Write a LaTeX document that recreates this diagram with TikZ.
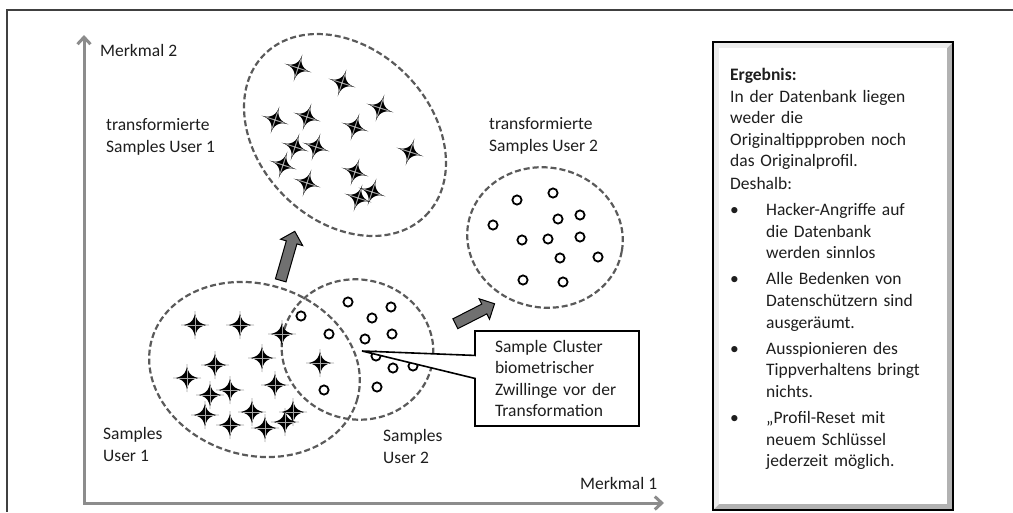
\documentclass[tikz,border=0pt]{standalone}
\usepackage{fontspec}
\setmainfont{Carlito}
\usetikzlibrary{arrows.meta,shapes.geometric,shapes.arrows,shapes.callouts}

\definecolor{axisgray}{HTML}{8C8C8C}
\definecolor{dashgray}{HTML}{5A5A5A}
\definecolor{arrowgray}{HTML}{707070}
\definecolor{framegray}{HTML}{404040}
\definecolor{inkgray}{HTML}{1E1E1E}

\tikzset{
  cluster/.style={ellipse, draw=dashgray, line width=2.2pt, dash pattern=on 6pt off 3pt, inner sep=0pt},
  lbl/.style={anchor=west, inner sep=0pt, align=left},
  ring/.style={draw=black, line width=1.8pt, fill=white},
  shiftarrow/.style={single arrow, draw=black, line width=1pt, fill=arrowgray, inner xsep=0pt, inner ysep=5pt, single arrow head extend=6pt},
  spark/.pic={
    \fill[black] (0,-14) .. controls (0,-5) and (5,0) .. (14,0)
      .. controls (5,0) and (0,5) .. (0,14)
      .. controls (0,5) and (-5,0) .. (-14,0)
      .. controls (-5,0) and (0,-5) .. cycle;
    \draw[gray!70, line width=1pt] (0,-9) -- (0,9) (-9,0) -- (9,0);
  }
}

\begin{document}
\begin{tikzpicture}[x=1pt, y=-1pt, font=\fontsize{17.5}{21.6}\selectfont, text=inkgray,
    >={Straight Barb[length=7pt,width=13pt]}]
        \useasboundingbox (0,0) rectangle (1013,512);

        % Frame
        \draw[framegray, line width=1.2pt] (1013,10) -- (7,10) -- (7,512);

        % Draw axes
        \draw[axisgray, line width=3pt, <->] (84,35) -- (84,503) -- (664,503);
        \node[lbl] (m2) at (100,50) {Merkmal 2};
        \node[lbl] (m1) at (580,483) {Merkmal 1};

        % Dashed clusters
        \node[cluster, minimum width=228pt, minimum height=172pt, rotate=-45] (trans1) at (345,135) {};
        \node[cluster, minimum width=156pt, minimum height=140pt, rotate=-10] (trans2) at (545,237.5) {};
        \node[cluster, minimum width=214pt, minimum height=171pt, rotate=-17] (user1) at (254.5,369.5) {};
        \node[cluster, minimum width=152pt, minimum height=140pt, rotate=-10] (user2) at (357.5,349.5) {};

        % Stars of user 1 (transformed and original)
        \foreach \p in {(298,68),(342,83),(380,108),(275,120),(307,117),(355,127),(295,147),
                        (316,147),(410,152),(283,165),(307,183),(355,172),(372,192),(358,198)}
          \pic[rotate=-18] at \p {spark};
        \foreach \p in {(195,325),(240,325),(282,334),(215,365),(262,358),(187,378),(275,385),(210,395),
                        (230,390),(205,415),(230,425),(252,412),(265,428),(293,412),(285,422),(320,363)}
          \pic at \p {spark};

        % Circles of user 2 (original and transformed)
        \foreach \p in {(348,302),(301,316),(391,307),(372,318),(329,334),(365,339),
                        (392,334),(376,356),(393,368),(413,366),(324,390),(377,387)}
          \draw[ring] \p circle (4.6);
        \foreach \p in {(517,200),(553,193),(493,225),(558,219),(580,215),(522,240),
                        (548,239),(580,237),(560,258),(598,257),(523,280),(563,282)}
          \draw[ring] \p circle (4.6);

        % Cluster labels
        \node[lbl] (lt1) at (106,137) {transformierte\\Samples User 1};
        \node[lbl] (lt2) at (489,136) {transformierte\\Samples User 2};
        \node[lbl] (lu1) at (103,444.5) {Samples\\User 1};
        \node[lbl] (lu2) at (383,446.5) {Samples\\User 2};

        % Transformation arrows
        \node[shiftarrow, minimum height=51pt, rotate=74] (lift1) at (287,258.5) {};
        \node[shiftarrow, minimum height=44pt, rotate=27] (lift2) at (472.5,315) {};

        % Callout on the twins
        \coordinate (twins) at (362,351);
        \node[rectangle callout, draw=black, line width=1.6pt, fill=white, minimum width=164pt,
              minimum height=95pt, text width=124pt, align=left, inner sep=0pt,
              callout absolute pointer={(twins)}, callout pointer width=23pt] (note) at (557,378.5)
              {Sample Cluster\\biometrischer\\Zwillinge vor der\\Transformation};

        % Result box with bevel
        \fill[gray!60] (713,42) rectangle (953,510);
        \fill[gray!15] (713,42) -- (953,42) -- (947,48) -- (719,48) -- (719,504) -- (713,510) -- cycle;
        \fill[white] (719,48) rectangle (947,504);
        \draw[black, line width=1.5pt] (713,42) rectangle (953,510);
        \node[anchor=north west, inner sep=0pt, text width=218pt, align=left] (result) at (730,68)
          {\textbf{Ergebnis:}\newline In der Datenbank liegen\newline weder die\newline
           Originaltippproben noch\newline das Originalprofil.\par\vspace{1pt}
           Deshalb:\par\vspace{4.5pt}
           \hangindent=36pt\hangafter=1\noindent\makebox[36pt][l]{\textbullet}Hacker-Angriffe auf\newline die Datenbank\newline werden sinnlos\par\vspace{4.5pt}
           \hangindent=36pt\hangafter=1\noindent\makebox[36pt][l]{\textbullet}Alle Bedenken von\newline Datensch\"utzern sind\newline ausger\"aumt.\par\vspace{4.5pt}
           \hangindent=36pt\hangafter=1\noindent\makebox[36pt][l]{\textbullet}Ausspionieren des\newline Tippverhaltens bringt\newline nichts.\par\vspace{4.5pt}
           \hangindent=36pt\hangafter=1\noindent\makebox[36pt][l]{\textbullet}„Profil-Reset mit\newline neuem Schl\"ussel\newline jederzeit m\"oglich.\par};
      \end{tikzpicture}
\end{document}
